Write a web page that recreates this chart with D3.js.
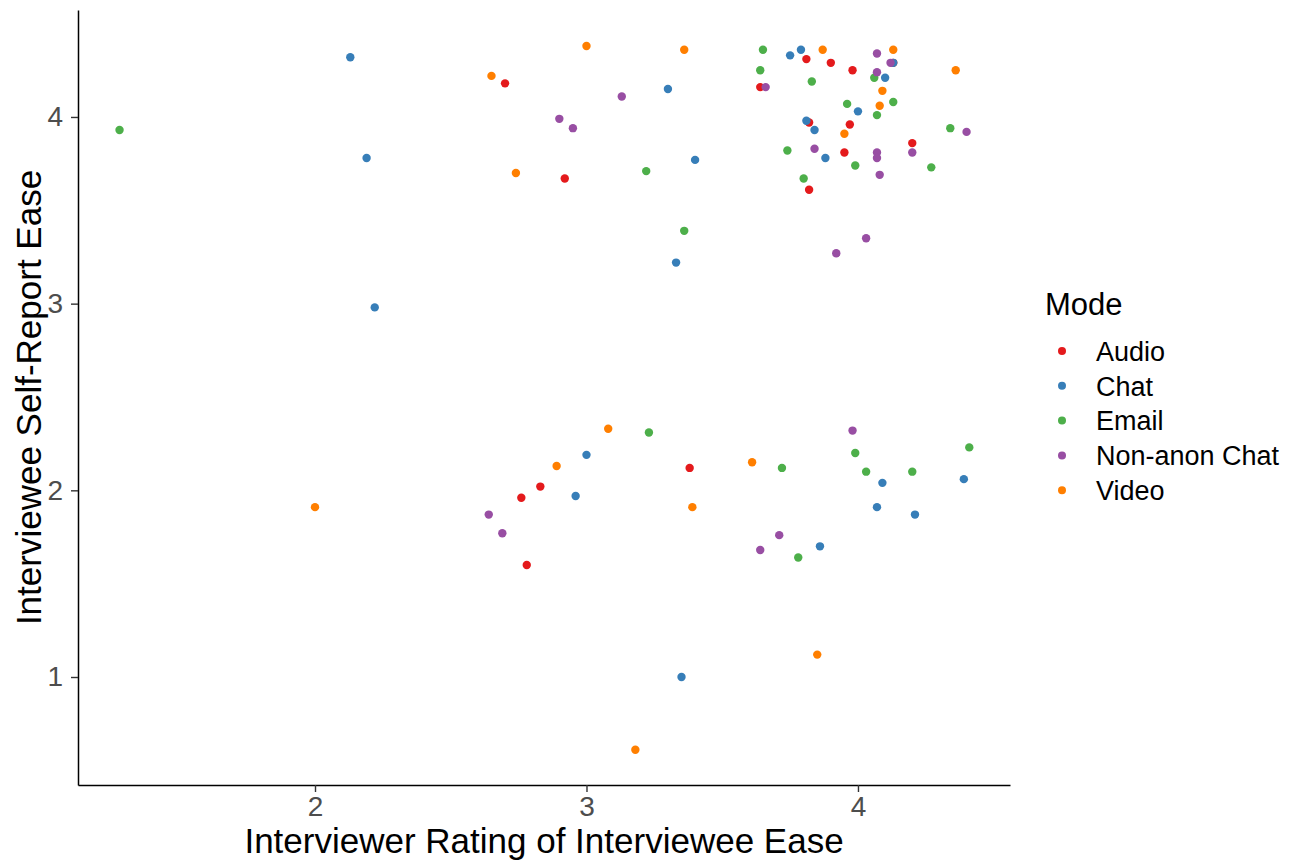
<!DOCTYPE html>
<html>
<head>
<meta charset="utf-8">
<script src="https://cdn.jsdelivr.net/npm/d3@7"></script>
<style>
    body { margin: 0; background: #fff; }
    svg { font-family: "Liberation Sans", Arial, sans-serif; }
</style>
</head>
<body>
<div id="scatter_plot"></div>
<script>
// values: [interviewer rating, self-report]
const modes = ["Audio", "Chat", "Email", "Non-anon Chat", "Video"];
const modeColors = ["#E41A1C", "#377EB8", "#4DAF4A", "#984EA3", "#FF7F00"];

const audio = [
    [3.81, 4.31], [3.90, 4.29], [3.98, 4.25], [4.13, 4.29], [3.64, 4.16], [3.82, 3.97],
    [3.97, 3.96], [3.95, 3.81], [4.20, 3.86], [3.82, 3.61], [2.70, 4.18], [2.92, 3.67],
    [3.38, 2.12], [2.83, 2.02], [2.76, 1.96], [2.78, 1.60]
];
const chat = [
    [3.75, 4.33], [3.79, 4.36], [4.13, 4.29], [4.10, 4.21], [4.00, 4.03], [3.81, 3.98],
    [3.84, 3.93], [3.88, 3.78], [2.13, 4.32], [2.19, 3.78], [2.22, 2.98], [3.30, 4.15],
    [3.40, 3.77], [3.33, 3.22], [3.00, 2.19], [2.96, 1.97], [4.09, 2.04], [4.07, 1.91],
    [4.21, 1.87], [4.39, 2.06], [3.86, 1.70], [3.35, 1.00]
];
const email = [
    [3.65, 4.36], [3.64, 4.25], [3.83, 4.19], [4.06, 4.21], [3.96, 4.07], [4.13, 4.08],
    [4.07, 4.01], [4.34, 3.94], [3.74, 3.82], [3.99, 3.74], [4.27, 3.73], [3.80, 3.67],
    [1.28, 3.93], [3.22, 3.71], [3.36, 3.39], [3.23, 2.31], [3.72, 2.12], [3.99, 2.20],
    [4.03, 2.10], [4.20, 2.10], [4.41, 2.23], [3.78, 1.64]
];
const nonAnonChat = [
    [4.07, 4.34], [4.12, 4.29], [3.66, 4.16], [4.07, 4.24], [4.40, 3.92], [3.84, 3.83],
    [4.07, 3.81], [4.07, 3.78], [4.20, 3.81], [4.08, 3.69], [4.03, 3.35], [3.92, 3.27],
    [3.13, 4.11], [2.90, 3.99], [2.95, 3.94], [3.98, 2.32], [3.71, 1.76], [3.64, 1.68],
    [2.64, 1.87], [2.69, 1.77]
];
const video = [
    [3.87, 4.36], [4.13, 4.36], [4.36, 4.25], [4.09, 4.14], [4.08, 4.06], [3.95, 3.91],
    [3.00, 4.38], [3.36, 4.36], [2.65, 4.22], [2.74, 3.70], [3.08, 2.33], [2.89, 2.13],
    [3.39, 1.91], [3.61, 2.15], [2.00, 1.91], [3.85, 1.12], [3.18, 0.61]
];

const xTicks = [2, 3, 4];
const yTicks = [1, 2, 3, 4];

const series = [audio, chat, email, nonAnonChat, video];
const points = [];
series.forEach((s, i) => s.forEach(p => points.push({ mode: modes[i], x: p[0], y: p[1] })));

const totalWidth = 1303, totalHeight = 861;
const margin = { top: 10, right: 293, bottom: 76, left: 78 };
const width = totalWidth - margin.left - margin.right;
const height = totalHeight - margin.top - margin.bottom;

const xScale = d3.scaleLinear().domain([1.127, 4.56]).range([0, width]);
const yScale = d3.scaleLinear().domain([0.4215, 4.573]).range([height, 0]);
const color = d3.scaleOrdinal().domain(modes).range(modeColors);

const svg = d3.select("#scatter_plot").append("svg")
    .attr("width", totalWidth)
    .attr("height", totalHeight);

const g = svg.append("g")
    .attr("transform", `translate(${margin.left}, ${margin.top})`);

g.selectAll("circle")
    .data(points)
    .enter()
    .append("circle")
    .attr("cx", d => xScale(d.x))
    .attr("cy", d => yScale(d.y))
    .attr("r", 4.2)
    .attr("fill", d => color(d.mode));

const xAxis = g.append("g")
    .attr("transform", `translate(0, ${height})`)
    .call(d3.axisBottom(xScale).tickValues(xTicks).tickFormat(d3.format("d"))
        .tickSize(7).tickSizeOuter(0).tickPadding(4));

const yAxis = g.append("g")
    .call(d3.axisLeft(yScale).tickValues(yTicks).tickFormat(d3.format("d"))
        .tickSize(7).tickSizeOuter(0).tickPadding(8));

[xAxis, yAxis].forEach(a => {
    a.select(".domain").attr("stroke", "#000").attr("stroke-width", 1.5);
    a.selectAll(".tick line").attr("stroke", "#333").attr("stroke-width", 1.4);
    a.selectAll(".tick text")
        .attr("fill", "#4D4D4D")
        .style("font-size", "28px")
        .style("font-family", "'Liberation Sans', Arial, sans-serif");
});

svg.append("text")
    .attr("x", margin.left + width / 2)
    .attr("y", 841)
    .attr("dy", "0.35em")
    .attr("text-anchor", "middle")
    .style("font-size", "35px")
    .text("Interviewer Rating of Interviewee Ease");

svg.append("text")
    .attr("transform", "rotate(-90)")
    .attr("x", -(margin.top + height / 2))
    .attr("y", 29)
    .attr("dy", "0.35em")
    .attr("text-anchor", "middle")
    .style("font-size", "35px")
    .text("Interviewee Self-Report Ease");

// legend
const legend = svg.append("g")
    .attr("transform", "translate(1045, 0)");

legend.append("text")
    .attr("x", 0)
    .attr("y", 315)
    .style("font-size", "31px")
    .text("Mode");

const items = legend.selectAll(".item")
    .data(modes)
    .enter()
    .append("g")
    .attr("class", "item")
    .attr("transform", (d, i) => `translate(0, ${351 + i * 34.8})`);

items.append("circle")
    .attr("cx", 17)
    .attr("cy", 0)
    .attr("r", 4)
    .attr("fill", d => color(d));

items.append("text")
    .attr("x", 51)
    .attr("y", 0)
    .attr("dy", "0.36em")
    .style("font-size", "27px")
    .text(d => d);
</script>
</body>
</html>
